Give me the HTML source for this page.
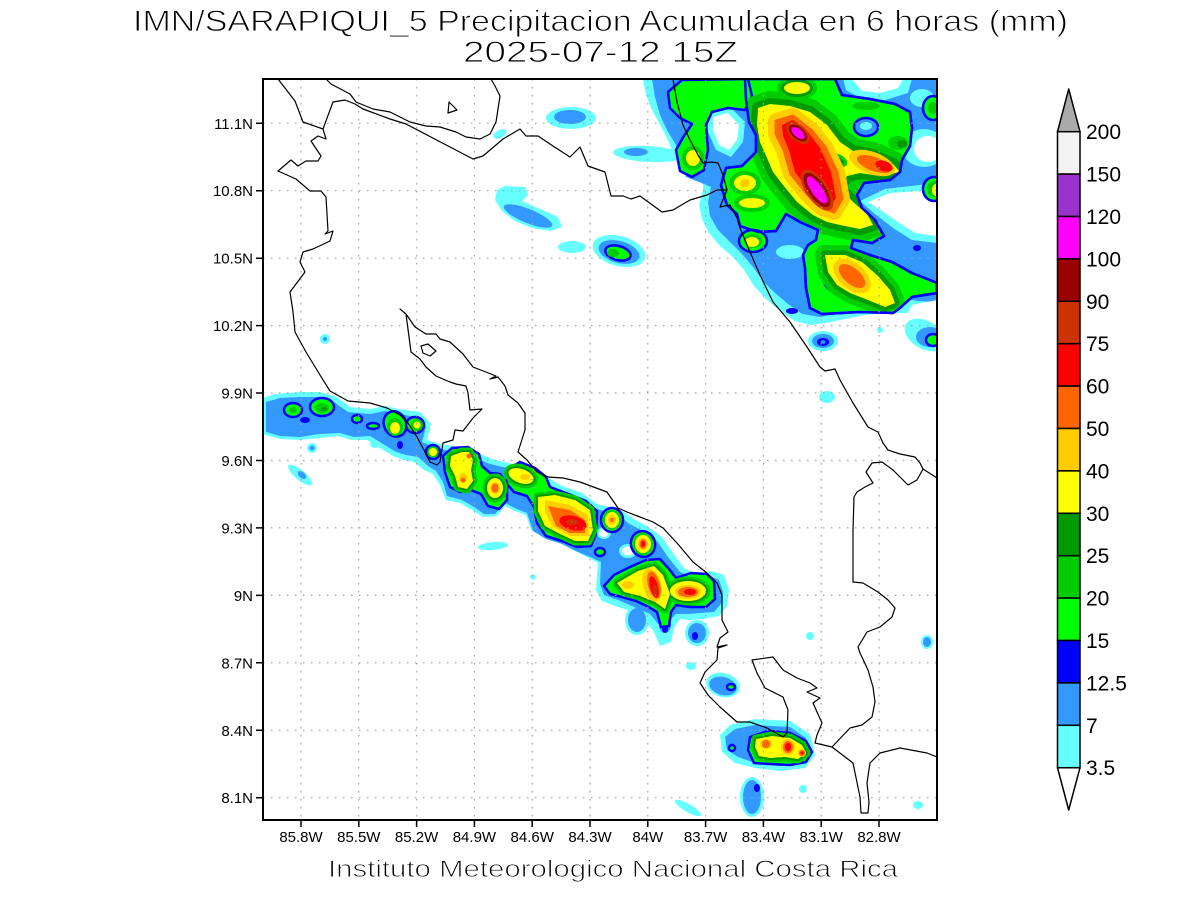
<!DOCTYPE html>
<html><head><meta charset="utf-8">
<style>
html,body{margin:0;padding:0;background:#fff}
svg{display:block}
text{font-family:"Liberation Sans",sans-serif;fill:#000}
.thin{stroke:#fff;stroke-width:0.9px}
use,path,ellipse,polygon{stroke-linejoin:round}
</style></head><body>
<svg width="1200" height="900" viewBox="0 0 1200 900" xmlns="http://www.w3.org/2000/svg">
<defs>
<clipPath id="pc"><rect x="263" y="79" width="674" height="741"/></clipPath>
<path id="gm" d="M745,79 L835,79 L842,95 L870,99 L895,104 L910,112 L912,128 L910,146 L902,160 L900,172 L890,180 L864,183 L857,195 L862,208 L875,220 L884,236 L872,243 L853,240 L851,248 L870,255 L892,262 L912,273 L937,283 L937,293 L912,297 L900,308 L893,313 L860,312 L822,314 L810,308 L806,288 L805,268 L803,255 L808,245 L816,240 L818,230 L800,222 L786,214 L776,231 L758,232 L740,226 L737,214 L727,205 L721,185 L726,168 L742,166 L756,152 L756,135 L749,122 L746,100 Z"/>
<clipPath id="gmc"><use href="#gm"/></clipPath>
<path id="y1" d="M758,108 L770,104 L790,106 L810,112 L827,125 L840,142 L853,151 L873,155 L893,164 L900,172 L880,176 L860,173 L847,176 L840,188 L853,202 L867,214 L873,225 L860,229 L840,225 L827,222 L813,215 L797,202 L783,185 L773,172 L767,158 L760,142 L757,125 Z"/>
<path id="r1" d="M776,121 L793,116 L811,130 L825,147 L837,172 L842,199 L834,212 L821,207 L807,194 L791,174 L784,150 L776,134 Z"/>
<path id="r1s" d="M782,125 L793,120 L808,132 L820,148 L831,172 L836,198 L830,207 L822,203 L810,192 L795,172 L789,150 L783,136 Z"/>
<path id="y2" d="M825,255 L845,255 L862,262 L878,276 L890,290 L895,303 L885,307 L868,300 L850,293 L837,285 L828,272 Z"/>
<path id="yb1" d="M451,456 L462,452 L469,452 L473,460 L471,470 L473,481 L467,489 L458,487 L455,476 L450,466 Z"/>
<path id="yb2" d="M538,497 L555,495 L575,500 L590,510 L593,530 L588,541 L575,541 L560,534 L545,526 L538,511 Z"/>
<path id="yb5" d="M617,583 L638,571 L654,566 L663,575 L670,594 L665,609 L655,602 L640,596 L624,592 Z"/>
<path id="ys" d="M756,739 L772,736 L790,738 L802,745 L806,753 L798,759 L785,757 L770,758 L759,756 L755,747 Z"/>
</defs>

<rect width="1200" height="900" fill="#fff"/>

<g clip-path="url(#pc)">
<!-- ===== CYAN LAYER ===== -->
<g fill="#66ffff">
<path d="M643,79 L937,79 L937,322 L925,318 L905,313 L885,313 L865,315 L845,319 L825,323 L810,325 L795,321 L780,311 L766,299 L754,286 L744,270 L733,257 L720,246 L709,233 L702,219 L699,205 L703,190 L703,177 L693,174 L681,171 L674,156 L668,140 L660,125 L652,110 L646,95 Z"/>
<ellipse cx="648" cy="154" rx="35" ry="8" transform="rotate(3 648 154)"/>
<ellipse cx="823" cy="341" rx="15" ry="10"/>
<ellipse cx="925" cy="335" rx="22" ry="14" transform="rotate(30 925 335)"/>
<ellipse cx="827" cy="397" rx="8" ry="6"/>
<ellipse cx="880" cy="330" rx="3" ry="3"/>
<ellipse cx="571" cy="118" rx="25" ry="11"/>
<ellipse cx="500" cy="134" rx="7" ry="4" transform="rotate(-30 500 134)"/>
<path d="M497,190 L505,186 L525,187 L528,195 L522,201 L540,209 L558,217 L562,227 L550,231 L532,228 L515,221 L502,211 L495,200 Z"/>
<ellipse cx="572" cy="247" rx="14" ry="6"/>
<ellipse cx="619" cy="251" rx="27" ry="15" transform="rotate(15 619 251)"/>
<ellipse cx="325" cy="339" rx="5" ry="5"/>
<path d="M263,398 L275,394 L300,392 L320,392 L337,397 L350,407 L370,409 L385,406 L398,409 L420,412 L431,424 L427,440 L440,444 L452,446 L470,448 L480,454 L492,459 L512,464 L532,469 L547,477 L562,486 L582,493 L597,504 L609,507 L622,511 L632,518 L647,526 L662,537 L673,553 L684,568 L696,574 L711,571 L724,575 L729,590 L727,606 L719,616 L703,619 L690,620 L680,619 L674,628 L671,642 L660,646 L654,632 L645,620 L630,611 L615,606 L602,601 L596,590 L597,574 L598,563 L585,556 L573,550 L560,543 L545,538 L531,530 L526,515 L515,511 L505,506 L497,516 L483,517 L472,510 L460,503 L446,500 L440,485 L433,474 L424,470 L414,462 L403,460 L393,456 L380,448 L367,440 L352,440 L338,436 L320,438 L300,440 L280,439 L265,435 L263,434 Z"/>
<ellipse cx="312" cy="448" rx="5" ry="5"/>
<ellipse cx="375" cy="444" rx="5" ry="4"/>
<ellipse cx="300" cy="475" rx="15" ry="5" transform="rotate(40 300 475)"/>
<ellipse cx="493" cy="546" rx="15" ry="4" transform="rotate(-5 493 546)"/>
<ellipse cx="533" cy="577" rx="3" ry="2.5"/>
<ellipse cx="697" cy="633" rx="12" ry="13"/>
<ellipse cx="637" cy="620" rx="12" ry="15"/>
<ellipse cx="691" cy="666" rx="5" ry="4"/>
<ellipse cx="723" cy="685" rx="17" ry="12" transform="rotate(15 723 685)"/>
<ellipse cx="810" cy="636" rx="4" ry="4"/>
<ellipse cx="927" cy="642" rx="6" ry="7"/>
<path d="M720,735 L730,725 L755,719 L790,721 L810,734 L815,755 L805,768 L780,771 L755,768 L735,763 L722,752 Z"/>
<ellipse cx="752" cy="797" rx="12" ry="20"/>
<ellipse cx="688" cy="808" rx="15" ry="4" transform="rotate(30 688 808)"/>
<ellipse cx="803" cy="789" rx="4" ry="4"/>
<ellipse cx="918" cy="805" rx="5" ry="4"/>
</g>

<!-- ===== LIGHT BLUE LAYER ===== -->
<g fill="#3399ff">
<path d="M652,79 L937,79 L937,302 L918,301 L900,298 L882,306 L860,309 L840,313 L820,317 L802,314 L788,304 L775,293 L763,281 L753,267 L742,254 L730,242 L718,230 L710,216 L708,202 L711,187 L699,182 L686,177 L680,160 L676,145 L667,130 L660,115 L655,97 Z"/>
<ellipse cx="636" cy="152" rx="12" ry="4"/>
<ellipse cx="823" cy="341" rx="11" ry="7"/>
<ellipse cx="930" cy="337" rx="14" ry="10"/>
<ellipse cx="570" cy="117" rx="16" ry="7"/>
<ellipse cx="528" cy="216" rx="26" ry="7" transform="rotate(22 528 216)"/>
<ellipse cx="619" cy="252" rx="21" ry="11" transform="rotate(15 619 252)"/>
<ellipse cx="325" cy="339" rx="2" ry="2"/>
<path d="M266,402 L280,398 L300,397 L320,397 L334,402 L348,412 L370,414 L385,411 L398,414 L418,417 L426,427 L422,442 L436,448 L450,451 L470,453 L478,459 L490,464 L512,469 L530,474 L544,482 L560,491 L580,498 L594,508 L607,512 L620,516 L628,523 L643,531 L657,541 L668,557 L680,572 L695,579 L710,576 L719,580 L723,592 L721,604 L714,612 L700,613 L688,614 L676,614 L668,622 L664,632 L659,625 L650,614 L632,606 L618,600 L604,595 L600,584 L601,562 L590,557 L578,552 L562,544 L546,539 L533,531 L527,513 L517,509 L505,503 L495,514 L484,514 L474,507 L462,500 L447,496 L443,482 L436,471 L428,466 L418,457 L406,455 L396,452 L383,444 L370,436 L354,437 L340,433 L320,434 L300,437 L280,436 L266,432 Z"/>
<ellipse cx="312" cy="448" rx="2.5" ry="2.5"/>
<ellipse cx="302" cy="475" rx="5" ry="3" transform="rotate(40 302 475)"/>
<ellipse cx="697" cy="633" rx="9" ry="10"/>
<ellipse cx="637" cy="620" rx="9" ry="12"/>
<ellipse cx="665" cy="625" rx="6" ry="8"/>
<ellipse cx="723" cy="686" rx="14" ry="9" transform="rotate(15 723 686)"/>
<ellipse cx="927" cy="642" rx="4" ry="5"/>
<path d="M725,737 L735,729 L755,725 L790,727 L806,738 L810,755 L800,764 L780,766 L755,763 L738,757 L727,750 Z"/>
<ellipse cx="752" cy="797" rx="9" ry="17"/>
</g>

<!-- ===== HOLES ===== -->
<g fill="#66ffff">
<path d="M843,79 L912,79 L908,93 L885,100 L860,98 L846,90 Z"/>
<ellipse cx="924" cy="148" rx="22" ry="19"/>
<path d="M860,201 L885,189 L937,183 L937,243 L912,240 L893,228 L875,214 Z"/>
<path d="M708,112 L730,107 L745,122 L743,142 L731,157 L716,150 L708,132 Z"/>
<ellipse cx="790" cy="252" rx="14" ry="7"/>
<ellipse cx="922" cy="98" rx="12" ry="9"/>
<ellipse cx="604" cy="533" rx="7" ry="6"/>
<ellipse cx="628" cy="551" rx="9" ry="7"/>
</g>
<g fill="#fff">
<path d="M852,79 L903,79 L898,88 L880,93 L862,91 Z"/>
<ellipse cx="928" cy="149" rx="14" ry="13"/>
<path d="M868,202 L890,193 L937,190 L937,236 L915,233 L898,222 L882,211 Z"/>
<path d="M713,117 L728,113 L739,125 L737,140 L729,150 L719,145 L713,130 Z"/>
<path d="M905,318 L912,305 L937,300 L937,322 L920,318 Z"/>
<ellipse cx="604" cy="533" rx="4.5" ry="4"/>
<ellipse cx="628" cy="551" rx="6" ry="4.5"/>
</g>

<!-- ===== BLUE SPOTS ===== -->
<g fill="#0000ff">
<ellipse cx="792" cy="311" rx="6" ry="3"/>
<ellipse cx="305" cy="420" rx="5" ry="3"/>
<ellipse cx="400" cy="445" rx="3" ry="4"/>
<ellipse cx="665" cy="629" rx="3" ry="4"/>
<ellipse cx="695" cy="636" rx="3" ry="4"/>
<ellipse cx="757" cy="788" rx="3" ry="4"/>
<ellipse cx="823" cy="342" rx="6" ry="4"/>
<ellipse cx="917" cy="248" rx="4" ry="3"/>
</g>
<ellipse cx="823" cy="342" rx="2.5" ry="1.8" fill="#3399ff"/>

<!-- ===== GREEN (15) WITH BLUE CONTOUR ===== -->
<g fill="#00ff00" stroke="#0000ff" stroke-width="2.5">
<use href="#gm"/>
<path d="M668,92 L682,80 L748,79 L752,96 L745,110 L728,108 L712,112 L706,125 L708,150 L704,170 L692,177 L680,171 L676,150 L684,136 L692,124 L680,118 L670,108 Z"/>
<ellipse cx="753" cy="241" rx="14" ry="11"/>
<ellipse cx="933" cy="108" rx="10" ry="12"/>
<ellipse cx="934" cy="189" rx="11" ry="12"/>
<ellipse cx="933" cy="340" rx="7" ry="6"/>
<ellipse cx="618" cy="253" rx="13" ry="7" transform="rotate(15 618 253)"/>
<ellipse cx="293" cy="410" rx="9" ry="7"/>
<ellipse cx="322" cy="407" rx="12" ry="9"/>
<ellipse cx="357" cy="419" rx="5" ry="4"/>
<ellipse cx="373" cy="426" rx="6" ry="3"/>
<ellipse cx="395" cy="424" rx="11" ry="13" transform="rotate(-25 395 424)"/>
<ellipse cx="415" cy="425" rx="9" ry="8"/>
<ellipse cx="433" cy="452" rx="7" ry="7"/>
<path d="M443,456 L452,448 L468,447 L479,454 L482,466 L490,473 L500,474 L507,484 L507,500 L499,509 L488,506 L481,494 L471,490 L460,492 L450,487 L445,472 Z"/>
<path d="M507,470 L520,462 L535,468 L546,477 L550,487 L566,493 L586,501 L597,511 L596,534 L591,546 L577,547 L562,541 L546,536 L537,523 L534,507 L527,496 L514,492 L507,484 Z"/>
<ellipse cx="612" cy="520" rx="11" ry="12"/>
<ellipse cx="600" cy="552" rx="5" ry="4"/>
<ellipse cx="643" cy="544" rx="12" ry="13" transform="rotate(-20 643 544)"/>
<path d="M604,586 L614,575 L630,567 L646,560 L660,559 L669,569 L676,578 L691,573 L707,574 L714,581 L715,599 L706,607 L690,607 L676,605 L671,612 L669,626 L661,627 L657,612 L647,606 L636,601 L622,597 L610,594 Z"/>
<ellipse cx="731" cy="687" rx="4" ry="3"/>
<path d="M750,737 L768,731 L790,733 L806,741 L812,752 L806,762 L790,765 L770,764 L754,763 L748,750 Z"/>
<ellipse cx="732" cy="748" rx="3" ry="3"/>
</g>
<ellipse cx="866" cy="127" rx="12" ry="9" fill="#3399ff" stroke="#0000ff" stroke-width="2.5"/>
<ellipse cx="866" cy="126" rx="6" ry="4" fill="#66ffff"/>
<ellipse cx="828" cy="284" rx="4" ry="8" transform="rotate(-30 828 284)" fill="#0000ff"/>

<!-- ===== NE CORE (clipped to green region) ===== -->
<g clip-path="url(#gmc)">
<ellipse cx="866" cy="106" rx="14" ry="4" fill="#00cc00"/>
<ellipse cx="898" cy="143" rx="10" ry="7" fill="#00cc00"/>
<ellipse cx="902" cy="144" rx="5" ry="4" fill="#009900"/>
<use href="#y1" fill="#00cc00" stroke="#00cc00" stroke-width="26"/>
<use href="#y2" fill="#00cc00" stroke="#00cc00" stroke-width="20"/>
<ellipse cx="797" cy="88" rx="20" ry="12" fill="#00cc00"/>
<ellipse cx="745" cy="183" rx="16" ry="12" fill="#00cc00"/>
<ellipse cx="752" cy="203" rx="18" ry="9" fill="#00cc00"/>
<use href="#y1" fill="#009900" stroke="#009900" stroke-width="12"/>
<use href="#y2" fill="#009900" stroke="#009900" stroke-width="9"/>
<ellipse cx="797" cy="88" rx="16" ry="9" fill="#009900"/>
<use href="#y1" fill="#ffff00"/>
<use href="#y2" fill="#ffff00"/>
<ellipse cx="797" cy="88" rx="13" ry="6" fill="#ffff00"/>
<ellipse cx="745" cy="183" rx="11" ry="8" fill="#ffff00"/>
<ellipse cx="752" cy="203" rx="13" ry="5" fill="#ffff00"/>
<ellipse cx="745" cy="183" rx="5" ry="4" fill="#ffcc00"/>
<ellipse cx="833" cy="160" rx="13" ry="6" transform="rotate(15 833 160)" fill="#009900" stroke="#00cc00" stroke-width="3"/>
<use href="#r1" fill="#ffcc00" stroke="#ffcc00" stroke-width="16"/>
<use href="#r1" fill="#ff6600" stroke="#ff6600" stroke-width="3"/>
<use href="#r1s" fill="#ff0000"/>
<ellipse cx="872" cy="163" rx="24" ry="11" transform="rotate(20 872 163)" fill="#ffcc00"/>
<ellipse cx="874" cy="164" rx="18" ry="7" transform="rotate(20 874 164)" fill="#ff6600"/>
<ellipse cx="884" cy="166" rx="9" ry="5" transform="rotate(20 884 166)" fill="#ff0000"/>
<ellipse cx="852" cy="276" rx="22" ry="13" transform="rotate(40 852 276)" fill="#ffcc00"/>
<ellipse cx="852" cy="276" rx="16" ry="8" transform="rotate(40 852 276)" fill="#ff6600"/>
<ellipse cx="798" cy="133" rx="14" ry="8" transform="rotate(40 798 133)" fill="#cc3300"/>
<ellipse cx="798" cy="133" rx="11" ry="6" transform="rotate(40 798 133)" fill="#990000"/>
<ellipse cx="798" cy="133" rx="8" ry="4" transform="rotate(40 798 133)" fill="#ff00ff"/>
<ellipse cx="817" cy="190" rx="24" ry="11" transform="rotate(55 817 190)" fill="#cc3300"/>
<ellipse cx="817" cy="190" rx="20" ry="8.5" transform="rotate(55 817 190)" fill="#990000"/>
<ellipse cx="817" cy="190" rx="16" ry="5.5" transform="rotate(55 817 190)" fill="#ff00ff"/>
</g>
<use href="#gm" fill="none" stroke="#0000ff" stroke-width="2.5"/>

<!-- other NE small cores -->
<ellipse cx="693" cy="158" rx="11" ry="12" fill="#00cc00"/>
<ellipse cx="693" cy="158" rx="7" ry="8" fill="#ffff00"/>
<ellipse cx="753" cy="241" rx="9" ry="7" fill="#00cc00"/>
<ellipse cx="752" cy="242" rx="7" ry="5" fill="#ffff00"/>
<ellipse cx="934" cy="189" rx="7" ry="8" fill="#00cc00"/>
<ellipse cx="936" cy="190" rx="4" ry="6" fill="#ffff00"/>
<ellipse cx="933" cy="108" rx="5" ry="6" fill="#00cc00"/>
<ellipse cx="613" cy="253" rx="6" ry="4" fill="#00cc00"/>

<!-- ===== SOUTH BAND CORES ===== -->
<g fill="#00cc00">
<ellipse cx="322" cy="408" rx="7" ry="5"/>
<ellipse cx="293" cy="410" rx="4" ry="3"/>
<ellipse cx="395" cy="427" rx="8" ry="9"/>
<ellipse cx="417" cy="425" rx="6" ry="6"/>
<ellipse cx="433" cy="452" rx="5.5" ry="5.5"/>
<ellipse cx="612" cy="520" rx="9" ry="10"/>
<ellipse cx="643" cy="544" rx="10" ry="11"/>
</g>
<ellipse cx="324" cy="409" rx="3" ry="2" fill="#009900"/>
<g fill="#00cc00" stroke="#00cc00" stroke-width="9">
<use href="#yb1"/><use href="#yb2"/><use href="#yb5"/><use href="#ys"/>
<ellipse cx="495" cy="488" rx="8" ry="10"/>
<ellipse cx="521" cy="476" rx="13" ry="7" transform="rotate(20 521 476)"/>
<ellipse cx="688" cy="591" rx="18" ry="10"/>
</g>
<g fill="#009900" stroke="#009900" stroke-width="4">
<use href="#yb1"/><use href="#yb2"/><use href="#yb5"/><use href="#ys"/>
<ellipse cx="495" cy="488" rx="8" ry="10"/>
<ellipse cx="521" cy="476" rx="13" ry="7" transform="rotate(20 521 476)"/>
<ellipse cx="688" cy="591" rx="18" ry="10"/>
</g>
<g fill="#ffff00">
<use href="#yb1"/><use href="#yb2"/><use href="#yb5"/><use href="#ys"/>
<ellipse cx="495" cy="488" rx="8" ry="10"/>
<ellipse cx="521" cy="476" rx="13" ry="7" transform="rotate(20 521 476)"/>
<ellipse cx="688" cy="591" rx="18" ry="10"/>
<ellipse cx="395" cy="428" rx="5" ry="6"/>
<ellipse cx="417" cy="425" rx="3.5" ry="3.5"/>
<ellipse cx="433" cy="452" rx="4" ry="4"/>
<ellipse cx="612" cy="520" rx="7" ry="8"/>
<ellipse cx="643" cy="544" rx="8" ry="9"/>
</g>
<g fill="#ffcc00">
<path d="M545,500 L570,505 L588,515 L589,536 L570,536 L552,526 L545,512 Z"/>
<ellipse cx="652" cy="585" rx="9" ry="17" transform="rotate(-15 652 585)"/>
<ellipse cx="688" cy="592" rx="13" ry="7"/>
<ellipse cx="628" cy="585" rx="6" ry="4"/>
<ellipse cx="612" cy="520" rx="4" ry="5"/>
<ellipse cx="643" cy="544" rx="5" ry="6"/>
<ellipse cx="495" cy="488" rx="5" ry="6"/>
<ellipse cx="525" cy="477" rx="5" ry="3"/>
<ellipse cx="463" cy="478" rx="4" ry="5"/>
<ellipse cx="766" cy="744" rx="6" ry="5"/>
<ellipse cx="788" cy="747" rx="7" ry="8"/>
<ellipse cx="802" cy="753" rx="4" ry="4"/>
</g>
<g fill="#ff6600">
<path d="M548,506 L570,510 L585,520 L585,533 L570,533 L556,526 Z"/>
<ellipse cx="654" cy="585" rx="6" ry="14" transform="rotate(-15 654 585)"/>
<ellipse cx="688" cy="592" rx="10" ry="5"/>
<ellipse cx="612" cy="520" rx="2" ry="2"/>
<ellipse cx="643" cy="544" rx="3.5" ry="5"/>
<ellipse cx="495" cy="488" rx="3.5" ry="4.5"/>
<ellipse cx="463" cy="480" rx="2.5" ry="2.5"/>
<ellipse cx="469" cy="456" rx="2.5" ry="2.5"/>
<ellipse cx="766" cy="744" rx="4" ry="4"/>
<ellipse cx="788" cy="747" rx="5" ry="6"/>
<ellipse cx="802" cy="753" rx="3" ry="3"/>
</g>
<g fill="#ff0000">
<ellipse cx="573" cy="523" rx="14" ry="7" transform="rotate(15 573 523)"/>
<ellipse cx="654" cy="587" rx="4" ry="11" transform="rotate(-15 654 587)"/>
<ellipse cx="690" cy="592" rx="6" ry="3"/>
<ellipse cx="643" cy="544" rx="2" ry="3"/>
<ellipse cx="788" cy="747" rx="3" ry="4"/>
<ellipse cx="802" cy="753" rx="1.5" ry="1.5"/>
</g>
<ellipse cx="572" cy="522" rx="6" ry="3" fill="#cc3300"/>
<ellipse cx="655" cy="590" rx="2" ry="5" fill="#cc3300"/>

<!-- ===== GRID ===== -->
<g stroke="#a0a0a0" stroke-width="1.2" stroke-dasharray="1.5 6.5" fill="none">
<path d="M263,123.3H937M263,190.7H937M263,258.2H937M263,325.6H937M263,393H937M263,460.5H937M263,527.9H937M263,595.4H937M263,662.8H937M263,730.3H937M263,797.7H937"/>
<path d="M301,79V820M358.8,79V820M416.6,79V820M474.4,79V820M532.2,79V820M590,79V820M647.8,79V820M705.6,79V820M763.4,79V820M821.2,79V820M879,79V820"/>
</g>

<!-- ===== COASTLINES ===== -->
<g fill="none" stroke="#000" stroke-width="1.2">
<path d="M278,79 L295,101 L303,122 L323,129 L326,139 L318,136 L311,141 L321,156 L318,161 L306,161 L298,166 L291,160 L278,171 L296,179 L310,191 L321,191 L326,197 L328,231 L325,234 L333,231 L330,241 L313,249 L303,252 L300,262 L305,272 L290,292 L293,312 L295,332 L306,352 L320,375 L330,391 L348,401 L370,403 L387,408 L400,415 L408,423 L417,437 L425,452 L430,462 L437,465 L440,462 L443,443 L453,440 L455,430 L463,431 L473,418 L482,409 L470,410 L468,393 L466,386 L456,384 L450,382 L436,376 L426,367 L420,359 L411,352 L406,314 L400,309 L406,314 L415,327 L426,334 L436,334 L440,339 L450,342 L463,354 L473,367 L496,376 L490,379 L498,377 L505,386 L508,395 L518,403 L525,413 L525,430 L518,452 L527,460 L537,472 L548,477 L563,478 L580,482 L607,492 L618,508 L627,512 L653,522 L663,528 L677,543 L693,562 L707,573 L717,583 L722,595 L722,620 L728,632 L720,638 L717,647 L727,645 L718,648 L717,660 L705,672 L700,683 L708,695 L720,707 L737,722 L750,722 L767,728 L783,737 L787,733 L788,710 L783,697 L765,688 L757,673 L752,660 L773,657 L783,670 L797,678 L810,683 L817,688 L807,692 L820,698 L813,703 L817,712 L822,723 L817,735 L815,743 L832,747 L853,763 L860,797 L861,813 L868,813 L869,802 L867,783 L870,763 L880,753 L900,748 L927,753 L937,757"/>
<path d="M832,747 L850,728 L862,725 L872,717 L875,702 L873,687 L868,670 L860,653 L858,647 L867,632 L880,627 L892,617 L895,608 L888,600 L878,592 L863,583 L853,582 L853,530 L854,497 L857,492 L865,487 L873,483 L866,472 L872,463 L882,462 L893,470 L908,485 L917,480 L923,469"/>
<path d="M673,79 L677,102 L683,125 L690,140 L698,155 L703,163 L712,162 L718,163 L723,175 L727,190 L720,207 L730,205 L737,218 L740,228 L750,252 L760,275 L773,302 L790,322 L807,347 L820,367 L825,371 L835,369 L840,380 L853,403 L868,427 L878,432 L883,443 L888,450 L900,454 L915,457 L920,463 L923,469 L937,478"/>
<path d="M323,129 L333,102 L345,100 L355,104 L363,109 L390,119 L406,124 L473,159 L483,156 L503,139 L520,129 L526,136 L538,136 L553,146 L570,157 L580,147 L588,166 L605,172 L611,196 L623,196 L631,199 L640,196 L662,212 L673,210 L690,200 L707,195 L717,190 L727,190"/>
<path d="M326,79 L331,84 L350,94 L356,102 L373,109 L390,112 L410,122 L426,126 L440,127 L456,132 L466,137 L480,139 L490,134 L496,122 L498,109 L500,96 L495,86 L491,79"/>
<path d="M449,102 L457,110 L448,113 Z"/>
<path d="M421,346 L428,344 L436,351 L430,356 L423,353 Z"/>
</g>
</g>

<!-- ===== FRAME & TICKS ===== -->
<rect x="263" y="79" width="674" height="741" fill="none" stroke="#000" stroke-width="2"/>
<g stroke="#000" stroke-width="1.5">
<path d="M256,123.3H263M256,190.7H263M256,258.2H263M256,325.6H263M256,393H263M256,460.5H263M256,527.9H263M256,595.4H263M256,662.8H263M256,730.3H263M256,797.7H263"/>
<path d="M301,820V827M358.8,820V827M416.6,820V827M474.4,820V827M532.2,820V827M590,820V827M647.8,820V827M705.6,820V827M763.4,820V827M821.2,820V827M879,820V827"/>
</g>
<g font-size="15" text-anchor="end">
<text x="253" y="128.8">11.1N</text>
<text x="253" y="196.2">10.8N</text>
<text x="253" y="263.7">10.5N</text>
<text x="253" y="331.1">10.2N</text>
<text x="253" y="398.5">9.9N</text>
<text x="253" y="466">9.6N</text>
<text x="253" y="533.4">9.3N</text>
<text x="253" y="600.9">9N</text>
<text x="253" y="668.3">8.7N</text>
<text x="253" y="735.8">8.4N</text>
<text x="253" y="803.2">8.1N</text>
</g>
<g font-size="15" text-anchor="middle">
<text x="301" y="842">85.8W</text>
<text x="358.8" y="842">85.5W</text>
<text x="416.6" y="842">85.2W</text>
<text x="474.4" y="842">84.9W</text>
<text x="532.2" y="842">84.6W</text>
<text x="590" y="842">84.3W</text>
<text x="647.8" y="842">84W</text>
<text x="705.6" y="842">83.7W</text>
<text x="763.4" y="842">83.4W</text>
<text x="821.2" y="842">83.1W</text>
<text x="879" y="842">82.8W</text>
</g>

<!-- ===== TITLES ===== -->
<text class="thin" x="133" y="31" font-size="30" textLength="935" lengthAdjust="spacingAndGlyphs">IMN/SARAPIQUI_5 Precipitacion Acumulada en 6 horas (mm)</text>
<text class="thin" x="463" y="62" font-size="30" textLength="275" lengthAdjust="spacingAndGlyphs">2025-07-12 15Z</text>
<text class="thin" x="328" y="877" font-size="24" textLength="570" lengthAdjust="spacingAndGlyphs">Instituto Meteorologico Nacional Costa Rica</text>

<!-- ===== COLORBAR ===== -->
<g stroke="#000" stroke-width="1.5">
<polygon points="1057.5,131.7 1080,131.7 1068.7,89" fill="#aaaaaa"/>
<rect x="1057.5" y="131.7" width="22.5" height="42.4" fill="#f3f3f3"/>
<rect x="1057.5" y="174.1" width="22.5" height="42.4" fill="#9933cc"/>
<rect x="1057.5" y="216.5" width="22.5" height="42.4" fill="#ff00ff"/>
<rect x="1057.5" y="258.9" width="22.5" height="42.4" fill="#990000"/>
<rect x="1057.5" y="301.3" width="22.5" height="42.4" fill="#cc3300"/>
<rect x="1057.5" y="343.7" width="22.5" height="42.4" fill="#ff0000"/>
<rect x="1057.5" y="386.1" width="22.5" height="42.4" fill="#ff6600"/>
<rect x="1057.5" y="428.5" width="22.5" height="42.4" fill="#ffcc00"/>
<rect x="1057.5" y="470.9" width="22.5" height="42.4" fill="#ffff00"/>
<rect x="1057.5" y="513.3" width="22.5" height="42.4" fill="#009900"/>
<rect x="1057.5" y="555.7" width="22.5" height="42.4" fill="#00cc00"/>
<rect x="1057.5" y="598.1" width="22.5" height="42.4" fill="#00ff00"/>
<rect x="1057.5" y="640.5" width="22.5" height="42.4" fill="#0000ff"/>
<rect x="1057.5" y="682.9" width="22.5" height="42.4" fill="#3399ff"/>
<rect x="1057.5" y="725.3" width="22.5" height="42.4" fill="#66ffff"/>
<polygon points="1057.5,767.7 1080,767.7 1068.7,810" fill="#ffffff"/>
</g>
<g font-size="21">
<text x="1086" y="139.2">200</text>
<text x="1086" y="181.6">150</text>
<text x="1086" y="224">120</text>
<text x="1086" y="266.4">100</text>
<text x="1086" y="308.8">90</text>
<text x="1086" y="351.2">75</text>
<text x="1086" y="393.6">60</text>
<text x="1086" y="436">50</text>
<text x="1086" y="478.4">40</text>
<text x="1086" y="520.8">30</text>
<text x="1086" y="563.2">25</text>
<text x="1086" y="605.6">20</text>
<text x="1086" y="648">15</text>
<text x="1086" y="690.4">12.5</text>
<text x="1086" y="732.8">7</text>
<text x="1086" y="775.2">3.5</text>
</g>
</svg>
</body></html>
